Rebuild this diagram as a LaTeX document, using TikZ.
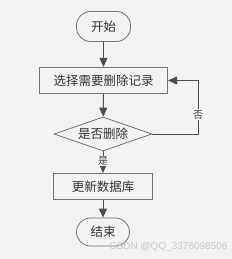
\documentclass[tikz,border=0pt]{standalone}
\usepackage{fontspec}
\newfontfamily\cjk{Noto Sans CJK SC}
\newfontfamily\wmfont{Liberation Sans}
\usepackage{tikz}
\usetikzlibrary{arrows.meta,shapes.geometric,positioning}
\definecolor{pageBg}{HTML}{F2F2F2}
\colorlet{flowLine}{black!70}
\colorlet{flowBorder}{black!55}
\tikzset{
  terminal/.style={draw=flowBorder,line width=0.8pt,rounded corners=14pt,fill=pageBg,
    minimum width=54pt,minimum height=30pt,inner sep=0pt},
  procbox/.style={draw=flowBorder,line width=1.3pt,fill=pageBg,minimum height=26pt,inner sep=0pt},
  decide/.style={diamond,draw=flowBorder,line width=0.8pt,fill=pageBg,aspect=2.9,
    minimum width=98pt,minimum height=34pt,inner sep=0pt},
  flow/.style={draw=flowLine,line width=1pt,-{Triangle[length=9pt,width=8pt]}},
  tag/.style={fill=white,inner sep=1pt,font=\cjk\fontsize{10}{12}\selectfont}
}

\begin{document}
\begin{tikzpicture}[x=1pt,y=-1pt,font=\cjk\fontsize{12.5}{14}\selectfont,text=black!80]
\fill[pageBg] (0,0) rectangle (232,259);
\useasboundingbox (0,0) rectangle (232,259);
% nodes
\node[terminal] (start) at (103.5,26.5) {开始};
\node[procbox,minimum width=128pt] (select) at (103.5,80.5) {选择需要删除记录};
\node[decide] (ask) at (103,134) {是否删除};
\node[procbox,minimum width=99pt] (update) at (103,186.5) {更新数据库};
\node[terminal,minimum width=53pt,minimum height=28pt] (stop) at (103,232) {结束};
\coordinate (loop) at (198,134);
% connectors
\draw[flow] (start) -- (select);
\draw[flow] (select) -- (ask);
\draw[flow] (ask) -- node[tag,pos=0.45] {是} (update);
\draw[flow] (update) -- (stop);
\draw[flow] (ask.east) -- (loop) |- node[tag,pos=0.18] {否} (select.east);
\node[font=\wmfont\fontsize{10}{12}\selectfont,text=black!22,anchor=east] (mark) at (231,247) {CSDN @QQ\_3376098506};
\end{tikzpicture}
\end{document}
